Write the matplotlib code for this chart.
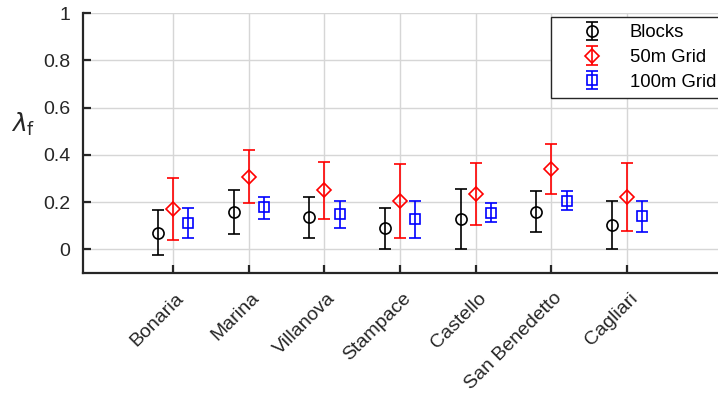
import numpy as np
import matplotlib
matplotlib.use("Agg")
import matplotlib.pyplot as plt
from matplotlib.transforms import ScaledTranslation

plt.rcParams['font.family'] = ['Liberation Sans', 'DejaVu Sans']

areas = ['Bonaria', 'Marina', 'Villanova', 'Stampace', 'Castello', 'San Benedetto', 'Cagliari']

# mean, lower bound, upper bound
blocks_mean = [0.07, 0.16, 0.137, 0.09, 0.13, 0.16, 0.103]
blocks_low = [-0.025, 0.067, 0.05, 0.003, 0.002, 0.073, 0.0]
blocks_high = [0.165, 0.25, 0.223, 0.177, 0.255, 0.245, 0.205]

grid50_mean = [0.17, 0.305, 0.25, 0.205, 0.235, 0.34, 0.22]
grid50_low = [0.04, 0.195, 0.13, 0.047, 0.105, 0.235, 0.077]
grid50_high = [0.30, 0.42, 0.37, 0.36, 0.365, 0.445, 0.365]

grid100_mean = [0.11, 0.18, 0.15, 0.13, 0.155, 0.205, 0.14]
grid100_low = [0.05, 0.13, 0.09, 0.05, 0.115, 0.165, 0.073]
grid100_high = [0.175, 0.22, 0.205, 0.205, 0.195, 0.245, 0.205]

fig = plt.figure(figsize=(7.18, 3.94), dpi=100)
ax = fig.add_axes([83 / 718, (394 - 273) / 394, 1 - 83 / 718, (273 - 13) / 394])

x = np.arange(len(areas))
series = [
    (blocks_mean, blocks_low, blocks_high, 'k', 'o', 'Blocks', -0.2, 8),
    (grid50_mean, grid50_low, grid50_high, 'r', 'D', '50m Grid', 0.0, 7),
    (grid100_mean, grid100_low, grid100_high, 'b', 's', '100m Grid', 0.2, 7.5),
]
for mean, low, high, col, mk, lab, off, ms in series:
    mean = np.array(mean)
    yerr = [mean - np.array(low), np.array(high) - mean]
    ax.errorbar(x + off, mean, yerr=yerr, fmt=mk, color=col, mfc='none',
                mec=col, ms=ms, mew=1.2, elinewidth=1.2, capsize=4.5,
                capthick=1.2, label=lab)

ax.set_xlim(-1.19, 7.2)
ax.set_ylim(-0.1, 1)
ax.set_yticks([0, 0.2, 0.4, 0.6, 0.8, 1])
ax.set_yticklabels(['0', '0.2', '0.4', '0.6', '0.8', '1'])
ax.set_xticks(x)

ax.grid(True, color='#d6d6d6', linewidth=1)
ax.set_axisbelow(True)
for s in ['top', 'right']:
    ax.spines[s].set_visible(False)
for s in ['left', 'bottom']:
    ax.spines[s].set_color('#262626')
    ax.spines[s].set_linewidth(1.6)
ax.tick_params(direction='in', length=6, width=1.6, color='#262626',
               labelsize=14, labelcolor='#262626')
ax.tick_params(axis='y', pad=9)
ax.tick_params(axis='x', pad=12)

# rotated labels, ending a little right of the tick like the original
ax.set_xticklabels(areas, rotation=45, ha='right', va='top', rotation_mode='anchor')
shift = ScaledTranslation(2 / 100, 0, fig.dpi_scale_trans)
for lbl in ax.get_xticklabels():
    lbl.set_transform(lbl.get_transform() + shift)

ax.set_ylabel(r'$\lambda_{\mathrm{f}}$', fontsize=18, rotation=0, color='#262626',
              va='center', ha='center')
ax.yaxis.set_label_coords(-0.095, 0.57)

leg = ax.legend(loc='upper left', bbox_to_anchor=(0.737, 0.985), fontsize=13.3,
                fancybox=False, edgecolor='#262626', framealpha=1,
                handletextpad=0.25, borderpad=0.41, labelspacing=0.41,
                handlelength=3.6, borderaxespad=0)
leg.get_frame().set_linewidth(1.0)

fig.savefig('out.png', dpi=100)
